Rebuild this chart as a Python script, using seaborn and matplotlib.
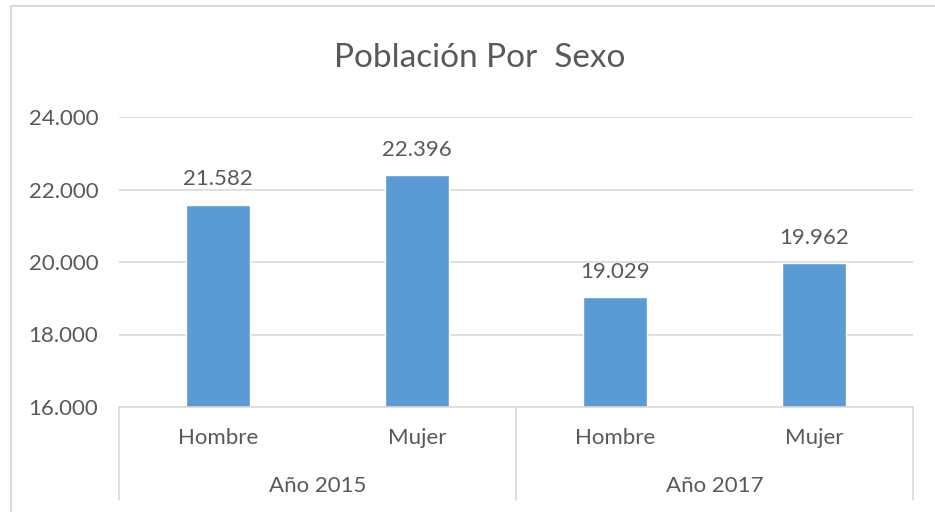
import pandas as pd
import matplotlib
matplotlib.use("Agg")
import matplotlib.pyplot as plt
import seaborn as sns

# datos del grafico
anios = ["Año 2015", "Año 2017"]
sexos = ["Hombre", "Mujer", "Hombre", "Mujer"]
poblacion = [21582, 22396, 19029, 19962]
grupos = ["2015 Hombre", "2015 Mujer", "2017 Hombre", "2017 Mujer"]

df = pd.DataFrame({"grupo": grupos, "poblacion": poblacion})

sns.set_theme(style="white")
plt.rcParams["font.family"] = ["Lato", "DejaVu Sans"]

gris = "#595959"
linea = "#D9D9D9"
azul = "#5B9BD5"

fig = plt.figure(figsize=(9.35, 5.12), dpi=100)
ax = fig.add_axes([119 / 935, 1 - 407 / 512, 794 / 935, 290 / 512])

sns.barplot(data=df, x="grupo", y="poblacion", color=azul, width=0.32,
            saturation=1, ax=ax)

ax.set_xlim(-0.5, 3.5)
ax.set_ylim(16000, 24000)
ax.set_yticks([16000, 18000, 20000, 22000, 24000])
ax.set_yticklabels([f"{v:,}".replace(",", ".") for v in ax.get_yticks().astype(int)],
                   fontsize=16, color=gris)
ax.yaxis.grid(True, color=linea, linewidth=1.2)
ax.set_axisbelow(True)
ax.tick_params(axis="y", length=0, pad=15)
ax.tick_params(axis="x", length=0, pad=15)
ax.set_xticks(range(len(sexos)))
ax.set_xticklabels(sexos, fontsize=16, color=gris)
ax.set_xlabel("")
ax.set_ylabel("")
for lado in ["top", "right", "left"]:
    ax.spines[lado].set_visible(False)
ax.spines["bottom"].set_color(linea)
ax.spines["bottom"].set_linewidth(1.2)

# etiquetas de datos
etiquetas = [f"{v:,}".replace(",", ".") for v in poblacion]
ax.bar_label(ax.containers[0], labels=etiquetas, padding=11, fontsize=16, color=gris)

# eje de categorias en dos niveles
fondo = -93 / 290
for xx in [0, 0.5, 1]:
    ax.plot([xx, xx], [0, fondo], transform=ax.transAxes, color=linea,
            linewidth=1.2, clip_on=False)
for i, a in enumerate(anios):
    ax.text(0.25 + 0.5 * i, -79 / 290, a, transform=ax.transAxes, ha="center",
            va="center", fontsize=16, color=gris)

# titulo y borde del grafico
fig.text(480 / 935, 1 - 58 / 512, "Población Por  Sexo", ha="center", va="center",
         fontsize=24, color=gris)
fig.add_artist(plt.Line2D([11 / 935, 11 / 935], [0, 1 - 6 / 512], color=linea, linewidth=1.5))
fig.add_artist(plt.Line2D([11 / 935, 1], [1 - 6 / 512, 1 - 6 / 512], color=linea, linewidth=1.5))

fig.savefig("out.png", dpi=100)
